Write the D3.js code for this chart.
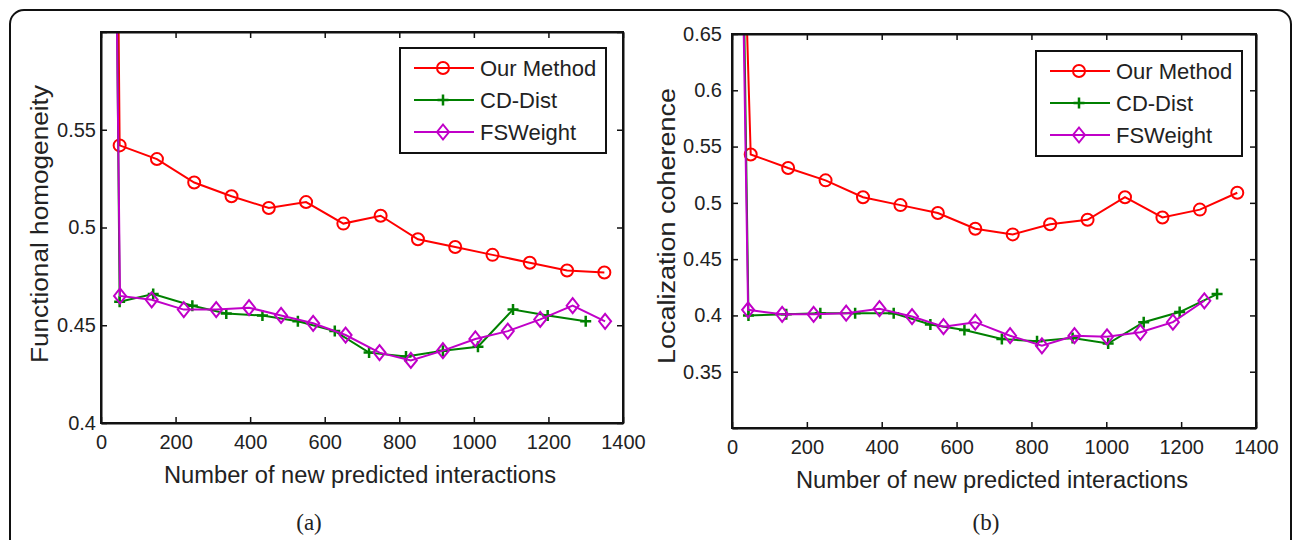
<!DOCTYPE html>
<html lang="en">
<head>
<meta charset="UTF-8">
<title>Functional homogeneity / Localization coherence</title>
<script src="https://d3js.org/d3.v7.min.js"></script>
<style>
  body { margin: 0; background: #fff; }
  text { font-family: "Liberation Sans", Arial, sans-serif; fill: #222; }
</style>
</head>
<body>
<svg width="1293" height="540"></svg>
<script>
// shared
const seriesNames = ["Our Method", "CD-Dist", "FSWeight"];
const seriesColors = ["#ff0000", "#008000", "#c000c8"];
const seriesMarkers = ["circle", "plus", "diamond"];
const xTicks = [0, 200, 400, 600, 800, 1000, 1200, 1400];

// panel (a): functional homogeneity
const fhYTicks = [0.4, 0.45, 0.5, 0.55, 0.6];
const fhYLabels = ["0.4", "0.45", "0.5", "0.55", ""];
const fhOur = [[45, 0.65], [50, 0.542], [150, 0.535], [250, 0.523], [350, 0.516], [450, 0.510],
  [550, 0.513], [650, 0.502], [750, 0.506], [850, 0.494], [950, 0.490], [1050, 0.486],
  [1150, 0.482], [1250, 0.478], [1350, 0.477]];
const fhCD = [[41, 0.65], [50, 0.462], [140, 0.466], [245, 0.460], [336, 0.456], [433, 0.455],
  [528, 0.452], [627, 0.447], [719, 0.436], [818, 0.434], [917, 0.437], [1011, 0.439],
  [1105, 0.458], [1198, 0.455], [1300, 0.452]];
const fhFS = [[40, 0.65], [51, 0.465], [136, 0.463], [222, 0.458], [309, 0.458], [397, 0.459],
  [483, 0.455], [569, 0.451], [656, 0.445], [747, 0.436], [831, 0.432], [917, 0.437],
  [1004, 0.443], [1091, 0.447], [1178, 0.453], [1265, 0.460], [1352, 0.452]];

// panel (b): localization coherence
const lcYTicks = [0.3, 0.35, 0.4, 0.45, 0.5, 0.55, 0.6, 0.65];
const lcYLabels = ["", "0.35", "0.4", "0.45", "0.5", "0.55", "0.6", "0.65"];
const lcOur = [[36, 0.70], [50, 0.543], [150, 0.531], [250, 0.520], [350, 0.505], [450, 0.498],
  [550, 0.491], [650, 0.477], [750, 0.472], [850, 0.481], [950, 0.485], [1050, 0.505],
  [1150, 0.487], [1250, 0.494], [1350, 0.509]];
const lcCD = [[31, 0.70], [44, 0.400], [145, 0.401], [236, 0.402], [329, 0.402], [432, 0.402],
  [530, 0.392], [621, 0.387], [721, 0.379], [815, 0.377], [910, 0.380], [1005, 0.375],
  [1100, 0.394], [1196, 0.403], [1296, 0.419]];
const lcFS = [[29, 0.70], [43, 0.405], [134, 0.401], [218, 0.401], [305, 0.402], [394, 0.406],
  [481, 0.399], [565, 0.390], [650, 0.394], [743, 0.382], [828, 0.373], [915, 0.382],
  [1002, 0.381], [1091, 0.385], [1178, 0.394], [1262, 0.413]];

const svg = d3.select("svg");

// outer frame (rounded, runs off the bottom)
svg.append("rect")
  .attr("x", 10).attr("y", 10)
  .attr("width", 1281).attr("height", 560)
  .attr("rx", 14)
  .attr("fill", "none").attr("stroke", "#111").attr("stroke-width", 2);

function marker(g, type, color) {
  if (type === "circle") {
    g.append("circle").attr("r", 6)
      .attr("fill", "none").attr("stroke", color).attr("stroke-width", 2);
  } else if (type === "plus") {
    g.append("path").attr("d", "M-5.5,0H5.5M0,-5.5V5.5")
      .attr("stroke", color).attr("stroke-width", 2.5);
  } else {
    g.append("path").attr("d", "M0,-7.5L6,0L0,7.5L-6,0Z")
      .attr("fill", "none").attr("stroke", color).attr("stroke-width", 2);
  }
}

function drawPanel(p) {
  const x = d3.scaleLinear().domain([0, 1400]).range([p.left, p.right]);
  const y = d3.scaleLinear().domain(p.yDomain).range([p.bottom, p.top]);
  const g = svg.append("g");

  const clipId = "clip-" + p.id;
  svg.append("clipPath").attr("id", clipId)
    .append("rect").attr("x", p.left).attr("y", p.top)
    .attr("width", p.right - p.left).attr("height", p.bottom - p.top);

  const plot = g.append("g").attr("clip-path", `url(#${clipId})`);
  const line = d3.line().x(d => x(d[0])).y(d => y(d[1]));

  p.series.forEach((data, i) => {
    plot.append("path")
      .datum(data)
      .attr("d", line)
      .attr("fill", "none")
      .attr("stroke", seriesColors[i])
      .attr("stroke-width", 2);
    plot.append("g").selectAll("g")
      .data(data.slice(1))
      .join("g")
      .attr("transform", d => `translate(${x(d[0])},${y(d[1])})`)
      .each(function () { marker(d3.select(this), seriesMarkers[i], seriesColors[i]); });
  });

  // axes, ticks drawn inward on all sides like matlab's box
  const axisX = d3.axisBottom(x).tickValues(xTicks).tickFormat(d3.format("d"))
    .tickSizeInner(-6).tickSizeOuter(0).tickPadding(12);
  const axisXTop = d3.axisTop(x).tickValues(xTicks).tickSizeInner(-6).tickSizeOuter(0).tickFormat("");
  const axisY = d3.axisLeft(y).tickValues(p.yTicks).tickSizeInner(-6).tickSizeOuter(0)
    .tickPadding(p.yPad).tickFormat((d, i) => p.yLabels[i]);
  const axisYRight = d3.axisRight(y).tickValues(p.yTicks).tickSizeInner(-6).tickSizeOuter(0).tickFormat("");

  const axes = [
    g.append("g").attr("transform", `translate(0,${p.bottom})`).call(axisX),
    g.append("g").attr("transform", `translate(0,${p.top})`).call(axisXTop),
    g.append("g").attr("transform", `translate(${p.left},0)`).call(axisY),
    g.append("g").attr("transform", `translate(${p.right},0)`).call(axisYRight)
  ];
  axes.forEach(a => {
    a.select(".domain").attr("stroke", "#111").attr("stroke-width", 2);
    a.selectAll(".tick line").attr("stroke", "#111").attr("stroke-width", 1.5);
    a.selectAll(".tick text").style("font-size", "20px").attr("fill", "#222");
  });
  // box edges
  g.append("rect")
    .attr("x", p.left).attr("y", p.top)
    .attr("width", p.right - p.left).attr("height", p.bottom - p.top)
    .attr("fill", "none").attr("stroke", "#111").attr("stroke-width", 2);

  // axis titles
  g.append("text")
    .attr("x", (p.left + p.right) / 2 - 2).attr("y", p.bottom + 60)
    .attr("text-anchor", "middle")
    .attr("textLength", 392).attr("lengthAdjust", "spacingAndGlyphs")
    .style("font-size", "23px")
    .text("Number of new predicted interactions");
  g.append("text")
    .attr("transform", `translate(${p.yTitleX},${p.yTitleY}) rotate(-90)`)
    .attr("text-anchor", "middle")
    .attr("textLength", p.yTitleLen).attr("lengthAdjust", "spacingAndGlyphs")
    .style("font-size", "23px")
    .text(p.yTitle);

  // legend
  const lg = g.append("g");
  lg.append("rect")
    .attr("x", p.legX).attr("y", p.legY).attr("width", 206).attr("height", 105)
    .attr("fill", "#fff").attr("stroke", "#111").attr("stroke-width", 2);
  seriesNames.forEach((name, i) => {
    const cy = p.legY + 20 + i * 32;
    lg.append("line")
      .attr("x1", p.legX + 14).attr("x2", p.legX + 74)
      .attr("y1", cy).attr("y2", cy)
      .attr("stroke", seriesColors[i]).attr("stroke-width", 2);
    marker(lg.append("g").attr("transform", `translate(${p.legX + 43},${cy})`),
      seriesMarkers[i], seriesColors[i]);
    lg.append("text")
      .attr("x", p.legX + 80).attr("y", cy + 8)
      .style("font-size", "22px")
      .text(name);
  });

  // caption
  svg.append("text")
    .attr("x", p.capX).attr("y", 530)
    .attr("text-anchor", "middle")
    .style("font-family", "'Liberation Serif', 'Times New Roman', serif")
    .style("font-size", "23px")
    .text(p.caption);
}

drawPanel({
  id: "a", left: 101, right: 623, top: 32, bottom: 423,
  yDomain: [0.4, 0.6], yTicks: fhYTicks, yLabels: fhYLabels, yPad: 5,
  series: [fhOur, fhCD, fhFS],
  yTitle: "Functional homogeneity", yTitleX: 48, yTitleY: 224, yTitleLen: 278,
  legX: 400, legY: 48, capX: 309, caption: "(a)"
});

drawPanel({
  id: "b", left: 732, right: 1256, top: 34, bottom: 428,
  yDomain: [0.3, 0.65], yTicks: lcYTicks, yLabels: lcYLabels, yPad: 10,
  series: [lcOur, lcCD, lcFS],
  yTitle: "Localization coherence", yTitleX: 675, yTitleY: 226, yTitleLen: 276,
  legX: 1036, legY: 51, capX: 986, caption: "(b)"
});
</script>
</body>
</html>
